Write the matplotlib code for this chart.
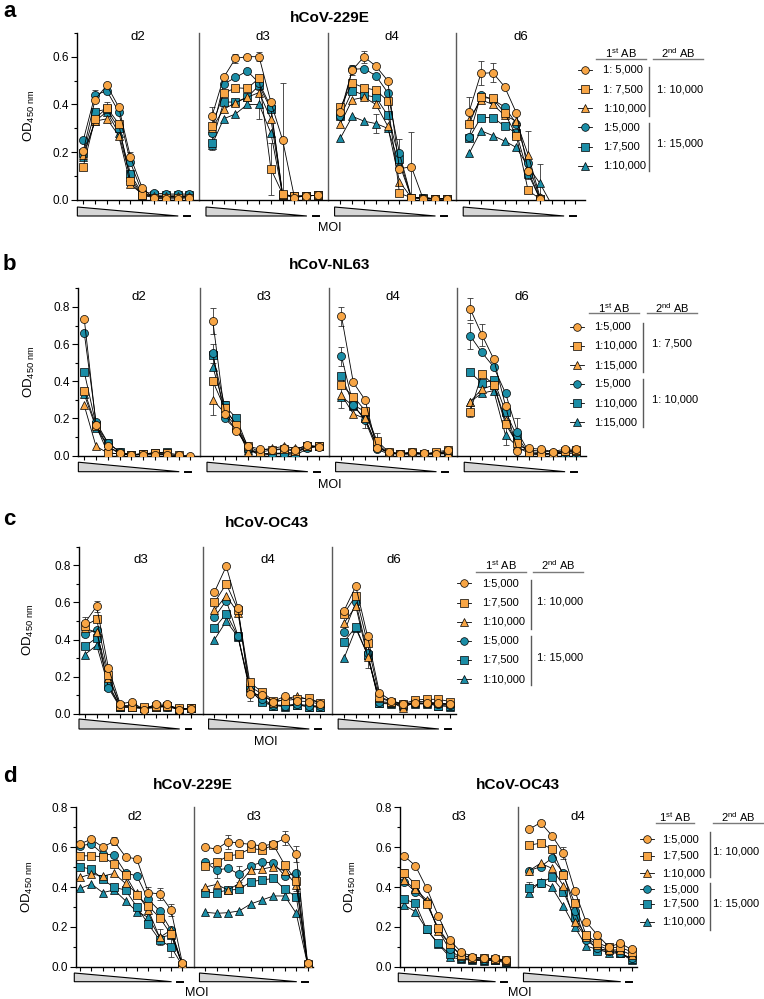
import numpy as np
import matplotlib
matplotlib.use("Agg")
import matplotlib.pyplot as plt
from matplotlib.lines import Line2D
from matplotlib.patches import Polygon
import matplotlib.transforms as mtransforms

plt.rcParams['font.family'] = ['Liberation Sans', 'DejaVu Sans']
plt.rcParams['mathtext.fontset'] = 'custom'
plt.rcParams['mathtext.rm'] = 'Liberation Sans'
plt.rcParams['mathtext.default'] = 'regular'

nan = np.nan
# ---------------- data ----------------
# series order: orange circle, orange square, orange triangle, teal circle, teal square, teal triangle
MOI_POS = [1, 2, 3, 4, 5, 6, 7, 8, 9, 10]

A_D2 = [[0.205, 0.42, 0.48, 0.39, 0.18, 0.05, 0.007, 0.005, 0.005, 0.01],
        [0.14, 0.34, 0.386, 0.32, 0.08, 0.02, 0.01, 0.01, 0.01, 0.01],
        [0.19, 0.33, 0.34, 0.27, 0.065, 0.025, 0.015, 0.015, 0.015, 0.015],
        [0.25, 0.44, 0.457, 0.37, 0.157, 0.03, 0.03, 0.025, 0.025, 0.025],
        [0.195, 0.37, 0.38, 0.30, 0.11, 0.025, 0.02, 0.02, 0.02, 0.02],
        [0.18, 0.33, 0.37, 0.28, 0.095, 0.02, 0.015, 0.015, 0.015, 0.015]]
A_D3 = [[0.35, 0.513, 0.593, 0.60, 0.60, 0.41, 0.25, 0.01, 0.017, 0.02],
        [0.31, 0.446, 0.47, 0.467, 0.51, 0.13, 0.025, 0.015, 0.017, 0.02],
        [0.30, 0.38, 0.407, 0.43, 0.45, 0.34, 0.02, 0.015, 0.017, 0.02],
        [0.28, 0.485, 0.513, 0.54, 0.49, 0.39, 0.02, 0.015, 0.017, 0.02],
        [0.24, 0.41, 0.41, 0.43, 0.48, 0.38, 0.02, 0.015, 0.017, 0.02],
        [0.23, 0.34, 0.36, 0.40, 0.40, 0.28, 0.02, 0.015, 0.017, 0.02]]
A_D4 = [[0.37, 0.544, 0.60, 0.56, 0.50, 0.13, 0.14, 0.005, 0.005, 0.005],
        [0.39, 0.49, 0.47, 0.46, 0.415, 0.028, 0.01, 0.005, 0.005, 0.005],
        [0.32, 0.42, 0.43, 0.40, 0.31, 0.077, 0.01, 0.005, 0.005, 0.005],
        [0.35, 0.547, 0.55, 0.52, 0.45, 0.195, 0.01, 0.01, 0.005, 0.005],
        [0.35, 0.457, 0.44, 0.43, 0.355, 0.17, 0.01, 0.01, 0.005, 0.005],
        [0.26, 0.35, 0.33, 0.32, 0.30, 0.15, 0.01, 0.01, 0.005, 0.005]]
A_D6 = [[0.37, 0.53, 0.533, 0.475, 0.365, 0.123, 0.005, -0.02, nan, nan],
        [0.32, 0.43, 0.425, 0.365, 0.27, 0.04, 0.005, -0.02, nan, nan],
        [0.335, 0.42, 0.40, 0.355, 0.33, 0.19, 0.014, -0.02, nan, nan],
        [0.265, 0.44, 0.42, 0.39, 0.32, 0.156, 0.007, -0.02, nan, nan],
        [0.26, 0.345, 0.345, 0.31, 0.28, 0.11, 0.005, -0.02, nan, nan],
        [0.195, 0.29, 0.27, 0.247, 0.22, 0.14, 0.07, -0.02, nan, nan]]

B_D2 = [[0.735, 0.165, 0.05, 0.015, 0.005, 0.005, 0.005, 0.005, 0.003, 0.0],
        [0.35, 0.16, 0.015, 0.01, 0.005, 0.01, 0.015, 0.015, 0.005, nan],
        [0.27, 0.05, 0.015, 0.01, 0.005, 0.01, 0.01, 0.005, 0.0, nan],
        [0.66, 0.18, 0.07, 0.02, 0.0, 0.01, 0.015, 0.015, nan, nan],
        [0.45, 0.165, 0.07, 0.02, 0.005, 0.01, 0.015, 0.02, nan, nan],
        [0.33, 0.15, 0.05, 0.01, 0.005, 0.01, 0.01, 0.01, nan, nan]]
B_D3 = [[0.723, 0.223, 0.133, 0.05, 0.036, 0.03, 0.04, 0.03, 0.06, 0.045],
        [0.40, 0.255, 0.165, 0.05, 0.02, 0.03, 0.034, 0.025, 0.05, 0.05],
        [0.30, 0.23, 0.155, 0.018, 0.03, 0.04, 0.05, 0.04, 0.05, 0.05],
        [0.55, 0.20, 0.14, 0.036, 0.0, 0.01, 0.01, 0.0, 0.04, 0.05],
        [0.54, 0.27, 0.20, 0.04, 0.01, 0.01, 0.012, 0.01, 0.05, 0.052],
        [0.477, 0.255, 0.165, 0.03, 0.01, 0.012, 0.015, 0.02, 0.045, 0.05]]
B_D4 = [[0.75, 0.394, 0.30, 0.04, 0.022, 0.01, 0.02, 0.012, 0.007, 0.03],
        [0.38, 0.318, 0.243, 0.08, 0.02, 0.01, 0.02, 0.01, 0.02, 0.03],
        [0.327, 0.225, 0.20, 0.052, 0.015, 0.01, 0.01, 0.01, 0.01, 0.012],
        [0.534, 0.273, 0.19, 0.034, 0.01, 0.01, 0.01, 0.01, 0.01, 0.016],
        [0.43, 0.273, 0.237, 0.066, 0.012, 0.01, 0.012, 0.01, 0.012, 0.02],
        [0.318, 0.268, 0.20, 0.05, 0.012, 0.01, 0.01, 0.01, 0.01, 0.01]]
B_D6 = [[0.79, 0.65, 0.52, 0.268, 0.025, 0.04, 0.035, 0.022, 0.035, 0.035],
        [0.237, 0.44, 0.38, 0.17, 0.066, 0.022, 0.016, 0.01, 0.025, 0.03],
        [0.29, 0.358, 0.38, 0.19, 0.06, 0.03, 0.025, 0.02, 0.025, 0.025],
        [0.645, 0.555, 0.477, 0.336, 0.13, 0.016, 0.01, 0.012, 0.022, 0.022],
        [0.448, 0.39, 0.408, 0.237, 0.10, 0.01, 0.005, 0.01, 0.012, 0.016],
        [0.29, 0.336, 0.35, 0.11, 0.05, 0.01, 0.01, 0.01, 0.012, 0.015]]

C_D3 = [[0.49, 0.58, 0.246, 0.054, 0.066, 0.022, 0.054, 0.052, 0.022, 0.027],
        [0.475, 0.51, 0.21, 0.045, 0.04, 0.035, 0.045, 0.045, 0.03, 0.03],
        [0.46, 0.44, 0.195, 0.045, 0.045, 0.03, 0.04, 0.045, 0.03, 0.03],
        [0.43, 0.453, 0.14, 0.035, 0.04, 0.03, 0.035, 0.04, 0.025, 0.03],
        [0.364, 0.41, 0.16, 0.04, 0.035, 0.03, 0.035, 0.045, 0.025, 0.03],
        [0.32, 0.37, 0.15, 0.04, 0.035, 0.03, 0.04, 0.04, 0.025, 0.03]]
C_D4 = [[0.656, 0.795, 0.57, 0.108, 0.103, 0.067, 0.097, 0.07, 0.067, 0.052],
        [0.60, 0.70, 0.56, 0.17, 0.12, 0.072, 0.072, 0.08, 0.085, 0.06],
        [0.557, 0.637, 0.543, 0.147, 0.11, 0.06, 0.08, 0.097, 0.077, 0.06],
        [0.52, 0.61, 0.42, 0.138, 0.08, 0.05, 0.045, 0.054, 0.045, 0.043],
        [0.462, 0.54, 0.417, 0.138, 0.063, 0.045, 0.045, 0.049, 0.04, 0.04],
        [0.40, 0.50, 0.414, 0.126, 0.072, 0.045, 0.04, 0.049, 0.04, 0.036]]
C_D6 = [[0.556, 0.687, 0.417, 0.115, 0.072, 0.054, 0.06, 0.057, 0.057, 0.052],
        [0.54, 0.637, 0.38, 0.094, 0.067, 0.054, 0.075, 0.079, 0.079, 0.067],
        [0.489, 0.58, 0.306, 0.085, 0.067, 0.03, 0.067, 0.067, 0.057, 0.057],
        [0.44, 0.60, 0.327, 0.067, 0.061, 0.054, 0.061, 0.057, 0.054, 0.049],
        [0.39, 0.468, 0.318, 0.061, 0.057, 0.049, 0.057, 0.057, 0.045, 0.043],
        [0.30, 0.46, 0.318, 0.057, 0.054, 0.045, 0.054, 0.054, 0.045, 0.04]]

D229_D2 = [[0.616, 0.64, 0.60, 0.63, 0.552, 0.54, 0.372, 0.365, 0.285, 0.017],
           [0.557, 0.556, 0.552, 0.515, 0.46, 0.36, 0.305, 0.246, 0.162, 0.01],
           [0.448, 0.465, 0.455, 0.468, 0.418, 0.368, 0.285, 0.147, 0.184, 0.01],
           [0.607, 0.616, 0.566, 0.56, 0.472, 0.455, 0.338, 0.28, 0.184, 0.008],
           [0.502, 0.489, 0.438, 0.398, 0.385, 0.30, 0.214, 0.134, 0.10, 0.005],
           [0.393, 0.415, 0.372, 0.385, 0.331, 0.276, 0.248, 0.147, 0.159, 0.01]]
D229_D3 = [[0.60, 0.59, 0.628, 0.62, 0.614, 0.606, 0.616, 0.644, 0.564, 0.02],
           [0.507, 0.524, 0.556, 0.564, 0.594, 0.586, 0.611, 0.51, 0.43, 0.015],
           [0.40, 0.413, 0.385, 0.418, 0.485, 0.49, 0.502, 0.48, 0.41, 0.01],
           [0.524, 0.485, 0.494, 0.464, 0.507, 0.524, 0.522, 0.455, 0.472, 0.015],
           [0.372, 0.372, 0.385, 0.388, 0.427, 0.435, 0.443, 0.388, 0.351, 0.01],
           [0.273, 0.268, 0.271, 0.28, 0.315, 0.335, 0.355, 0.355, 0.268, 0.01]]
DOC_D3 = [[0.556, 0.507, 0.393, 0.256, 0.134, 0.075, 0.05, 0.042, 0.042, 0.033],
          [0.472, 0.413, 0.313, 0.196, 0.114, 0.059, 0.045, 0.042, 0.037, 0.033],
          [0.435, 0.388, 0.335, 0.18, 0.117, 0.054, 0.045, 0.042, 0.038, 0.03],
          [0.427, 0.377, 0.326, 0.184, 0.087, 0.042, 0.037, 0.033, 0.037, 0.025],
          [0.34, 0.318, 0.187, 0.117, 0.064, 0.042, 0.037, 0.033, 0.033, 0.025],
          [0.31, 0.276, 0.187, 0.114, 0.05, 0.037, 0.033, 0.03, 0.033, 0.017]]
DOC_D4 = [[0.69, 0.723, 0.658, 0.572, 0.382, 0.226, 0.159, 0.10, 0.117, 0.087],
          [0.61, 0.62, 0.59, 0.46, 0.32, 0.159, 0.12, 0.097, 0.097, 0.075],
          [0.482, 0.519, 0.494, 0.407, 0.226, 0.147, 0.109, 0.084, 0.084, 0.059],
          [0.482, 0.502, 0.544, 0.472, 0.281, 0.134, 0.092, 0.08, 0.067, 0.042],
          [0.393, 0.422, 0.449, 0.377, 0.248, 0.154, 0.08, 0.087, 0.07, 0.038],
          [0.372, 0.427, 0.398, 0.305, 0.20, 0.104, 0.087, 0.07, 0.067, 0.033]]

# error bars: (series, point, sd)
ERR_A = {"d2": [(3, 1, 0.02), (0, 4, 0.02), (1, 2, 0.025)],
         "d3": [(0, 6, 0.24), (1, 5, 0.11), (0, 2, 0.02), (0, 4, 0.02), (5, 4, 0.06), (0, 0, 0.04), (4, 0, 0.03)],
         "d4": [(0, 6, 0.145), (3, 5, 0.06), (0, 2, 0.025), (5, 3, 0.04), (0, 1, 0.02)],
         "d6": [(2, 5, 0.10), (5, 6, 0.08), (0, 1, 0.05), (0, 2, 0.04), (0, 0, 0.06)]}
ERR_B = {"d2": [(0, 1, 0.025)],
         "d3": [(0, 0, 0.07), (2, 0, 0.08), (3, 0, 0.05), (1, 1, 0.04)],
         "d4": [(0, 0, 0.05), (3, 0, 0.05), (2, 0, 0.07), (2, 2, 0.05), (1, 3, 0.04)],
         "d6": [(0, 0, 0.06), (3, 0, 0.07), (0, 1, 0.06), (1, 0, 0.03), (3, 4, 0.07), (5, 3, 0.05)]}
ERR_C = {"d3": [(0, 1, 0.03), (0, 0, 0.03)],
         "d4": [(0, 3, 0.04), (2, 6, 0.02)],
         "d6": [(2, 2, 0.06)]}
ERR_D229 = {"d2": [(0, 3, 0.02), (3, 6, 0.06), (0, 7, 0.03), (0, 8, 0.03), (4, 8, 0.05), (1, 6, 0.04), (2, 7, 0.04)],
            "d3": [(0, 2, 0.035), (0, 7, 0.035), (1, 8, 0.05), (3, 1, 0.04), (0, 8, 0.04), (3, 3, 0.04)]}
ERR_DOC = {"d3": [(1, 0, 0.02)],
           "d4": [(0, 3, 0.03), (4, 0, 0.03), (4, 1, 0.02)]}

LEG_A = ["1: 5,000", "1: 7,500", "1:10,000", "1:5,000", "1:7,500", "1:10,000"]
GRP_A = ["1: 10,000", "1: 15,000"]
LEG_B = ["1:5,000", "1:10,000", "1:15,000", "1:5,000", "1:10,000", "1:15,000"]
GRP_B = ["1: 7,500", "1: 10,000"]
LEG_C = ["1:5,000", "1:7,500", "1:10,000", "1:5,000", "1:7,500", "1:10,000"]
GRP_C = ["1: 10,000", "1: 15,000"]

# ---------------- styling ----------------
W, H = 764, 999
fig = plt.figure(figsize=(W / 100, H / 100), dpi=100)

ORANGE = "#F7A545"
TEAL = "#1B8DA6"
COLORS = [ORANGE] * 3 + [TEAL] * 3
MARKERS = ['o', 's', '^'] * 2
MSIZE = {'o': 5.8, 's': 5.4, '^': 6.2}
DIV = "#5a5a5a"


def fx(px):
    return px / W


def fy(py):
    return 1 - py / H


def draw_row(left, top, bottom, spacing, xlims, ylim, yticks, panels, names,
             errs, label_dy, tri):
    height = bottom - top
    x = left
    axes = []
    for k, (xl, data, name) in enumerate(zip(xlims, panels, names)):
        w = (xl[1] - xl[0]) * spacing
        ax = fig.add_axes([fx(x), fy(bottom), w / W, height / H])
        x += w
        axes.append(ax)
        ax.set_xlim(*xl)
        ax.set_ylim(*ylim)
        ax.patch.set_alpha(0)
        for s in ['top', 'right']:
            ax.spines[s].set_visible(False)
        ax.spines['bottom'].set_linewidth(1.0)
        ax.set_xticks(MOI_POS)
        ax.tick_params(axis='x', direction='out', length=3, width=0.8,
                       labelbottom=False)
        if k == 0:
            ax.spines['left'].set_linewidth(1.0)
            ax.set_yticks(yticks)
            ax.set_yticklabels([f"{v:.1f}" for v in yticks], fontsize=8.5)
            minor = np.arange(0, ylim[1] + 1e-6, 0.1)
            ax.set_yticks([m for m in minor if not np.any(np.isclose(m, yticks))], minor=True)
            ax.tick_params(axis='y', which='major', direction='out', length=4, width=0.8, pad=2)
            ax.tick_params(axis='y', which='minor', direction='out', length=2.5, width=0.8)
        else:
            ax.spines['left'].set_color(DIV)
            ax.spines['left'].set_linewidth(1.0)
            ax.tick_params(axis='y', left=False, labelleft=False)
        # error bars
        for (si, pi, e) in errs.get(name, []):
            ax.errorbar([MOI_POS[pi]], [data[si][pi]], yerr=[e], fmt='none',
                        ecolor='#333333', elinewidth=0.6, capsize=2,
                        capthick=0.6, zorder=2)
        # series (teal first, orange circles on top)
        for si in reversed(range(6)):
            m = MARKERS[si]
            ax.plot(MOI_POS, data[si], color='black', lw=0.6, marker=m,
                    ms=MSIZE[m], mfc=COLORS[si], mec='black', mew=0.5,
                    zorder=3 + (6 - si) * 0.1)
        ax.text(0.5, 1 - label_dy / height, name, transform=ax.transAxes,
                ha='center', va='center', fontsize=9.5)
        # dilution wedge and negative-control dash
        trans = mtransforms.blended_transform_factory(ax.transData, ax.transAxes)
        y_top = -tri[0] / height
        y_bot = -tri[1] / height
        poly = Polygon([(0.5, y_top), (9.05, y_bot), (0.5, y_bot)], closed=True,
                       facecolor='#d6d6d6', edgecolor='black', lw=0.8,
                       transform=trans, clip_on=False)
        ax.add_patch(poly)
        ax.add_line(Line2D([9.55, 10.05], [y_bot, y_bot], color='black', lw=1.4,
                           transform=trans, clip_on=False))
    return axes


def draw_legend(mx, lx, rows, hy, uly, ul1, ul2, barx, bars, glx, gly, labels, groups):
    for i, y in enumerate(rows):
        fig.add_artist(Line2D([fx(mx - 7), fx(mx + 7)], [fy(y), fy(y)], color='black', lw=0.6))
        fig.add_artist(Line2D([fx(mx)], [fy(y)], marker=MARKERS[i], ms=MSIZE[MARKERS[i]] * 0.95,
                              mfc=COLORS[i], mec='black', mew=0.5, lw=0))
        fig.text(fx(lx), fy(y), labels[i], ha='left', va='center', fontsize=8)
    fig.text(fx((ul1[0] + ul1[1]) / 2), fy(hy), r"1$^{st}$ AB", ha='center', va='center', fontsize=8)
    fig.text(fx((ul2[0] + ul2[1]) / 2), fy(hy), r"2$^{nd}$ AB", ha='center', va='center', fontsize=8)
    for ul in (ul1, ul2):
        fig.add_artist(Line2D([fx(ul[0]), fx(ul[1])], [fy(uly), fy(uly)], color='#7a7a7a', lw=1.0))
    for (b0, b1) in bars:
        fig.add_artist(Line2D([fx(barx), fx(barx)], [fy(b0), fy(b1)], color='#5a5a5a', lw=1.0))
    for g, y in zip(groups, gly):
        fig.text(fx(glx), fy(y), g, ha='left', va='center', fontsize=8)


YLAB = r"OD$_{450\ nm}$"

# ---------------- panel a ----------------
XL4 = [(0.47, 10.8), (-0.1, 10.8), (-0.1, 10.8), (-0.1, 10.8)]
draw_row(77, 32.8, 200, 11.8, XL4, (0, 0.7), [0, 0.2, 0.4, 0.6],
         [A_D2, A_D3, A_D4, A_D6], ["d2", "d3", "d4", "d6"], ERR_A, 4.5, (7, 16))
fig.text(fx(3), fy(17), "a", fontsize=16, fontweight='bold', ha='left', va='baseline')
fig.text(fx(330), fy(18), "hCoV-229E", fontsize=11, fontweight='bold', ha='center', va='center')
fig.text(fx(29), fy(116), YLAB, rotation=90, fontsize=9.5, ha='center', va='center')
fig.text(fx(330), fy(228), "MOI", fontsize=9, ha='center', va='center')
draw_legend(585, 603, [70, 89.3, 108.3, 127.3, 146.7, 165.7], 53, 59, (596, 646), (653, 703),
            649, [(66.7, 115.7), (123, 170.7)], 657, [89.3, 144], LEG_A, GRP_A)

# ---------------- panel b ----------------
draw_row(78, 288.3, 455.7, 11.8, XL4, (0, 0.9), [0, 0.2, 0.4, 0.6, 0.8],
         [B_D2, B_D3, B_D4, B_D6], ["d2", "d3", "d4", "d6"], ERR_B, 8.3, (6.5, 16))
fig.text(fx(3), fy(270), "b", fontsize=16, fontweight='bold', ha='left', va='baseline')
fig.text(fx(330), fy(265), "hCoV-NL63", fontsize=11, fontweight='bold', ha='center', va='center')
fig.text(fx(29), fy(372), YLAB, rotation=90, fontsize=9.5, ha='center', va='center')
fig.text(fx(330), fy(485), "MOI", fontsize=9, ha='center', va='center')
draw_legend(577, 594, [326.7, 345.7, 365, 384, 403.3, 422.3], 308, 313, (589, 639), (647, 697),
            643, [(323, 372), (379, 427)], 652, [344, 399], LEG_B, GRP_B)

# ---------------- panel c ----------------
XL3 = [(0.5, 11.0), (0, 11.0), (0, 10.5)]
draw_row(79, 546.7, 714, 11.78, XL3, (0, 0.9), [0, 0.2, 0.4, 0.6, 0.8],
         [C_D3, C_D4, C_D6], ["d3", "d4", "d6"], ERR_C, 13, (5, 15))
fig.text(fx(3), fy(525), "c", fontsize=16, fontweight='bold', ha='left', va='baseline')
fig.text(fx(267), fy(523), "hCoV-OC43", fontsize=11, fontweight='bold', ha='center', va='center')
fig.text(fx(28), fy(630), YLAB, rotation=90, fontsize=9.5, ha='center', va='center')
fig.text(fx(266), fy(741.7), "MOI", fontsize=9, ha='center', va='center')
draw_legend(464, 482, [583.3, 602.7, 621.7, 640.7, 660, 679], 565, 572, (476, 526), (533, 583),
            530.7, [(580, 629), (636, 685)], 537, [602, 657], LEG_C, GRP_C)

# ---------------- panel d ----------------
XL2 = [(0.65, 11.0), (0, 10.5)]
draw_row(76, 807.3, 966.7, 11.38, XL2, (0, 0.8), [0, 0.2, 0.4, 0.6, 0.8],
         [D229_D2, D229_D3], ["d2", "d3"], ERR_D229, 9.4, (6.3, 15))
draw_row(400, 807.3, 966.7, 11.38, XL2, (0, 0.8), [0, 0.2, 0.4, 0.6, 0.8],
         [DOC_D3, DOC_D4], ["d3", "d4"], ERR_DOC, 9.4, (6.3, 15))
fig.text(fx(3), fy(782), "d", fontsize=16, fontweight='bold', ha='left', va='baseline')
fig.text(fx(193), fy(785), "hCoV-229E", fontsize=11, fontweight='bold', ha='center', va='center')
fig.text(fx(518), fy(785), "hCoV-OC43", fontsize=11, fontweight='bold', ha='center', va='center')
fig.text(fx(27), fy(887), YLAB, rotation=90, fontsize=9.5, ha='center', va='center')
fig.text(fx(350), fy(887), YLAB, rotation=90, fontsize=9.5, ha='center', va='center')
fig.text(fx(197), fy(993), "MOI", fontsize=9, ha='center', va='center')
fig.text(fx(520), fy(993), "MOI", fontsize=9, ha='center', va='center')
draw_legend(646.7, 661.7, [839.3, 855.7, 873.3, 889.3, 904, 921.7], 816.7, 822.7, (655.7, 694),
            (713, 762.7), 710, [(831.7, 876.7), (883.3, 930)], 713.3, [851.7, 904], LEG_C, GRP_C)

fig.savefig("out.png", dpi=100)
